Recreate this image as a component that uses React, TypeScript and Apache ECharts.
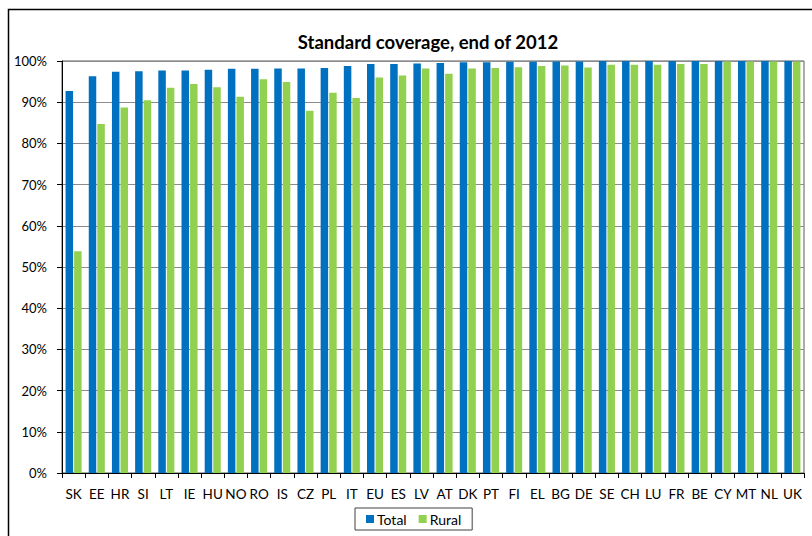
import React, { useEffect, useRef } from "react";
import * as echarts from "echarts";

const categories = ["SK", "EE", "HR", "SI", "LT", "IE", "HU", "NO", "RO", "IS", "CZ", "PL", "IT", "EU", "ES", "LV", "AT", "DK", "PT", "FI", "EL", "BG", "DE", "SE", "CH", "LU", "FR", "BE", "CY", "MT", "NL", "UK"];
const totalValues = [92.7, 96.3, 97.4, 97.5, 97.7, 97.7, 97.9, 98.1, 98.1, 98.2, 98.2, 98.3, 98.8, 99.3, 99.3, 99.4, 99.5, 99.7, 99.7, 99.8, 99.8, 99.9, 99.9, 100, 100, 100, 100, 100, 100, 100, 100, 100];
const ruralValues = [53.8, 84.7, 88.7, 90.5, 93.5, 94.4, 93.6, 91.3, 95.6, 94.9, 87.9, 92.3, 91.0, 96.0, 96.5, 98.2, 96.9, 98.2, 98.3, 98.5, 98.8, 98.9, 98.4, 99.1, 99.1, 99.1, 99.3, 99.3, 99.9, 99.9, 99.9, 99.9];
const seriesNames = ["Total", "Rural"];
const titleText = "Standard coverage, end of 2012";

const FONT = "Lato, 'Liberation Sans', sans-serif";

export default function App() {
  const ref = useRef<HTMLDivElement>(null);
  useEffect(() => {
    if (!ref.current) return;
    const chart = echarts.init(ref.current, null, { renderer: "svg" });
    chart.setOption({
      animation: false,
      backgroundColor: "#ffffff",
      textStyle: { fontFamily: FONT },
      title: {
        text: titleText,
        left: 423,
        textAlign: "center",
        top: 27,
        textStyle: { fontSize: 18.5, fontWeight: "bold", color: "#000", fontFamily: FONT },
      },
      graphic: [
        {
          type: "rect",
          shape: { x: 8.5, y: 9.5, width: 830, height: 560 },
          style: { fill: "none", stroke: "#000", lineWidth: 1.5 },
          silent: true,
          z: 0,
        },
      ],
      legend: {
        left: 355,
        top: 508,
        data: seriesNames,
        icon: "rect",
        itemWidth: 8,
        itemHeight: 8,
        itemGap: 12,
        padding: [4, 11, 4, 11],
        borderColor: "#404040",
        borderWidth: 1,
        textStyle: { fontSize: 14, color: "#000", fontFamily: FONT, padding: [0, 0, 0, -2] },
      },
      grid: {
        left: 62,
        right: 8,
        top: 61,
        bottom: 63,
        show: true,
        borderColor: "#595959",
        borderWidth: 1,
        containLabel: false,
      },
      xAxis: {
        type: "category",
        data: categories,
        axisLine: { lineStyle: { color: "#000", width: 1 } },
        axisTick: { show: true, length: 5, lineStyle: { color: "#000" } },
        axisLabel: { fontSize: 13.5, color: "#000", margin: 14, interval: 0, fontFamily: FONT },
      },
      yAxis: {
        type: "value",
        min: 0,
        max: 100,
        interval: 10,
        axisLine: { show: true, lineStyle: { color: "#000", width: 1 } },
        axisTick: { show: true, length: 5, lineStyle: { color: "#000" } },
        axisLabel: { formatter: "{value}%", fontSize: 13, color: "#000", margin: 15, fontFamily: FONT },
        splitLine: { lineStyle: { color: "#8c8c8c", width: 1 } },
      },
      series: [
        {
          name: seriesNames[0],
          type: "bar",
          data: totalValues,
          barWidth: 7.5,
          barGap: "14%",
          itemStyle: { color: "#0070C0" },
        },
        {
          name: seriesNames[1],
          type: "bar",
          data: ruralValues,
          barWidth: 7.5,
          barGap: "14%",
          itemStyle: { color: "#92D050" },
        },
      ],
    });
    return () => chart.dispose();
  }, []);
  return (
    <div
      ref={ref}
      style={{ position: "fixed", left: 0, top: 0, width: 812, height: 536 }}
    />
  );
}
